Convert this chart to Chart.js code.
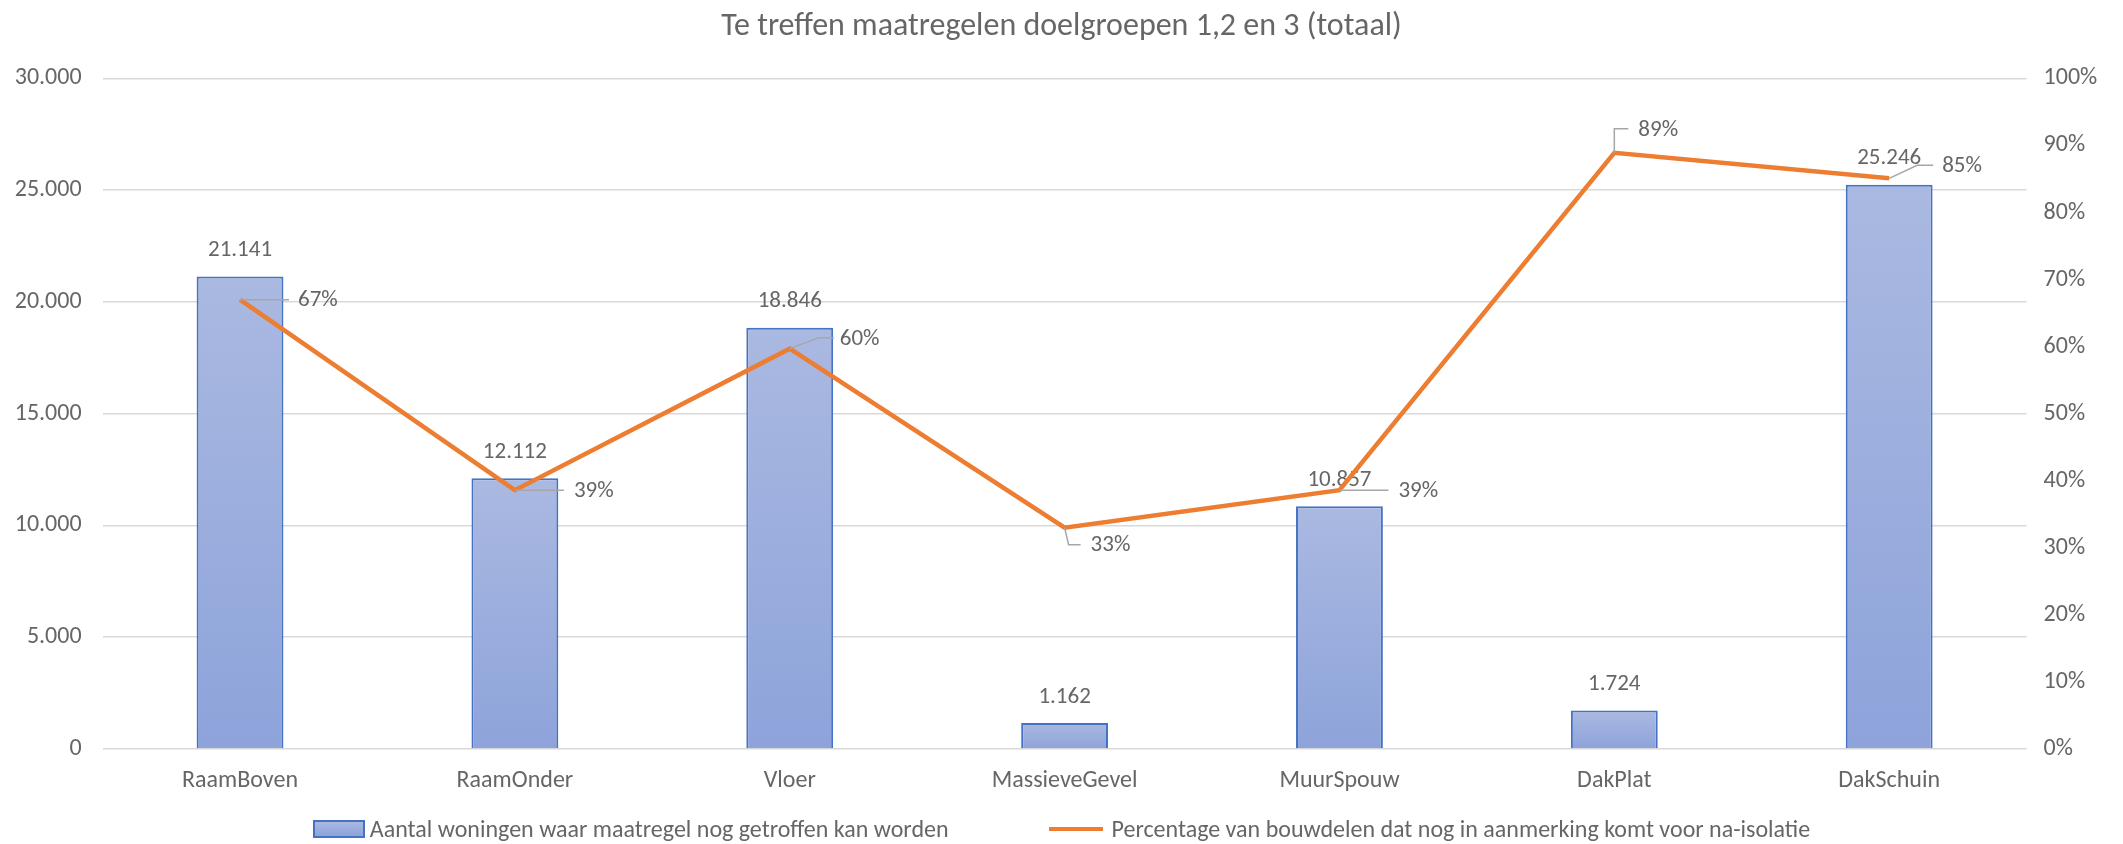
<!DOCTYPE html>
<html>
<head>
<meta charset="utf-8">
<script src="https://cdn.jsdelivr.net/npm/chart.js@4"></script>
<style>
  body { margin: 0; background: #fff; }
  #wrap { position: relative; width: 2123px; height: 844px; }
  #legend {
    position: absolute; left: 0; right: 0; top: 814px;
    display: flex; justify-content: center; gap: 100px;
    margin: 0; padding: 0; list-style: none;
    font: 24px Carlito, Lato, sans-serif; color: #666666;
  }
  #legend li { display: flex; align-items: center; gap: 5px; white-space: nowrap; }
</style>
</head>
<body>
<div id="wrap">
  <canvas id="chart"></canvas>
  <ul id="legend"></ul>
</div>
<script>
const categories = ["RaamBoven", "RaamOnder", "Vloer", "MassieveGevel", "MuurSpouw", "DakPlat", "DakSchuin"];
const aantalWoningen = [21141, 12112, 18846, 1162, 10857, 1724, 25246];
const percentageBouwdelen = [0.67, 0.386, 0.597, 0.33, 0.386, 0.889, 0.851];

const barLabel = "Aantal woningen waar maatregel nog getroffen kan worden";
const lineLabel = "Percentage van bouwdelen dat nog in aanmerking komt voor na-isolatie";
const title = "Te treffen maatregelen doelgroepen 1,2 en 3 (totaal)";

const FONT = "Carlito, Lato, sans-serif";
const GREY = "#666666";
const BAR_TOP = "#AAB9E1";
const BAR_BOTTOM = "#8DA3DA";
const BAR_BORDER = "#4472C4";
const ORANGE = "#ED7D31";

// where the % labels sit, relative to their point (text left/middle + leader path)
const pctLabelPos = [
  { dx: 58, dy: 1, leader: [[0, 0], [49, 0]] },
  { dx: 59, dy: 1, leader: [[0, 0], [49, 0]] },
  { dx: 50, dy: -9, leader: [[0, 0], [29, -11], [44, -11]] },
  { dx: 26, dy: 18, leader: [[0, 0], [4, 17], [16, 17]] },
  { dx: 59, dy: 1, leader: [[0, 0], [49, 0]] },
  { dx: 24, dy: -23, leader: [[0, 0], [0, -24], [14, -24]] },
  { dx: 53, dy: -12, leader: [[0, 0], [28, -13], [44, -13]] },
];

const fmtNum = (v) => String(v).replace(/\B(?=(\d{3})+(?!\d))/g, ".");
const fmtPct = (v) => Math.round(v * 100) + "%";

const barGradient = (context) => {
  const { chart, parsed } = context;
  if (!chart.chartArea || !parsed) return BAR_TOP;
  const y = chart.scales.y;
  const g = chart.ctx.createLinearGradient(0, y.getPixelForValue(parsed.y), 0, y.getPixelForValue(0));
  g.addColorStop(0, BAR_TOP);
  g.addColorStop(1, BAR_BOTTOM);
  return g;
};

const dataLabels = {
  id: "dataLabels",
  afterDatasetDraw(chart, args) {
    const { ctx } = chart;
    const meta = args.meta;
    if (meta.type !== "bar") return;
    ctx.save();
    ctx.font = `23px ${FONT}`;
    ctx.fillStyle = GREY;
    ctx.textAlign = "center";
    ctx.textBaseline = "middle";
    meta.data.forEach((bar, i) => {
      ctx.fillText(fmtNum(aantalWoningen[i]), bar.x, bar.y - 26);
    });
    ctx.restore();
  },
  afterDatasetsDraw(chart) {
    const { ctx } = chart;
    const meta = chart.getDatasetMeta(1);
    ctx.save();
    ctx.font = `23px ${FONT}`;
    ctx.textAlign = "left";
    ctx.textBaseline = "middle";
    meta.data.forEach((pt, i) => {
      const pos = pctLabelPos[i];
      ctx.strokeStyle = "#A6A6A6";
      ctx.lineWidth = 1.5;
      ctx.beginPath();
      pos.leader.forEach(([lx, ly], j) => {
        if (j === 0) ctx.moveTo(pt.x + lx, pt.y + ly);
        else ctx.lineTo(pt.x + lx, pt.y + ly);
      });
      ctx.stroke();
      ctx.fillStyle = GREY;
      ctx.fillText(fmtPct(percentageBouwdelen[i]), pt.x + pos.dx, pt.y + pos.dy);
    });
    ctx.restore();
  },
};

const htmlLegend = {
  id: "htmlLegend",
  afterUpdate(chart) {
    const ul = document.getElementById("legend");
    ul.innerHTML = "";
    chart.data.datasets.forEach((ds) => {
      const li = document.createElement("li");
      const mark = document.createElement("span");
      if (ds.type === "line") {
        mark.style.cssText = `display:inline-block;width:54px;height:4px;background:${ORANGE};margin-right:4px`;
      } else {
        mark.style.cssText = `display:inline-block;width:48px;height:14px;background:linear-gradient(${BAR_TOP},${BAR_BOTTOM});border:2px solid ${BAR_BORDER}`;
      }
      const txt = document.createElement("span");
      txt.textContent = ds.label;
      li.appendChild(mark);
      li.appendChild(txt);
      ul.appendChild(li);
    });
  },
};

new Chart(document.getElementById("chart"), {
  data: {
    labels: categories,
    datasets: [
      {
        type: "bar",
        label: barLabel,
        data: aantalWoningen,
        yAxisID: "y",
        backgroundColor: barGradient,
        borderColor: BAR_BORDER,
        borderWidth: 2,
        categoryPercentage: 1,
        barPercentage: 0.316,
        order: 2,
      },
      {
        type: "line",
        label: lineLabel,
        data: percentageBouwdelen,
        yAxisID: "y1",
        borderColor: ORANGE,
        backgroundColor: ORANGE,
        borderWidth: 4.5,
        pointRadius: 0,
        tension: 0,
        order: 1,
      },
    ],
  },
  options: {
    responsive: true,
    maintainAspectRatio: false,
    animation: false,
    layout: { padding: { left: 0, right: 0, top: 0, bottom: 35 } },
    plugins: {
      legend: { display: false },
      tooltip: { enabled: false },
      title: {
        display: true,
        text: title,
        color: GREY,
        font: { family: FONT, size: 32, weight: "normal" },
        padding: { top: 8, bottom: 32 },
      },
    },
    scales: {
      x: {
        grid: { display: false },
        border: { display: false },
        ticks: { color: GREY, font: { family: FONT, size: 24 }, padding: 10, maxRotation: 0 },
        afterFit: (s) => { s.height = 60; },
      },
      y: {
        position: "left",
        min: 0,
        max: 30000,
        grid: { color: "#D9D9D9", lineWidth: 1.5, drawTicks: false },
        border: { display: false },
        ticks: { stepSize: 5000, color: GREY, font: { family: FONT, size: 24 }, padding: 21, callback: (v) => fmtNum(v) },
        afterFit: (s) => { s.width = 102.6; },
      },
      y1: {
        position: "right",
        min: 0,
        max: 1,
        grid: { display: false, drawTicks: false },
        border: { display: false },
        ticks: { stepSize: 0.1, color: GREY, font: { family: FONT, size: 24 }, padding: 17, callback: (v) => fmtPct(v) },
        afterFit: (s) => { s.width = 96.4; },
      },
    },
  },
  plugins: [dataLabels, htmlLegend],
});
</script>
</body>
</html>
